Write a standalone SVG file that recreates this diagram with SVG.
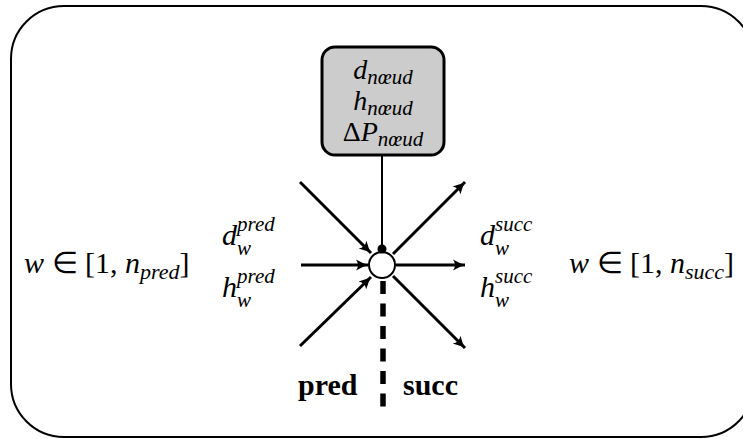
<svg xmlns="http://www.w3.org/2000/svg" width="743" height="439" viewBox="0 0 743 439">
<style>
.t{font-family:"Liberation Serif","Times New Roman",serif;fill:#000;font-size:30px}
.i{font-style:italic}
.b{font-weight:bold}
.s{font-size:22px;font-style:italic}
.k{font-size:21px;font-style:italic}
.bx{font-size:28px}
.arr{stroke:#000;stroke-width:3;fill:none;marker-end:url(#ah)}
</style>
<defs>
<marker id="ah" viewBox="-13 -6 14 12" refX="0" refY="0" markerWidth="14" markerHeight="12" markerUnits="userSpaceOnUse" orient="auto">
<path d="M-12,-5.5 Q-5,-1.5 0,0 Q-5,1.5 -12,5.5 Q-8,0 -12,-5.5 Z" fill="#000"/>
</marker>
</defs>
<rect x="11" y="6" width="743" height="431" rx="53" ry="53" fill="#fff" stroke="#000" stroke-width="2"/>
<g id="connectors">
<line x1="382" y1="155" x2="382" y2="249" stroke="#000" stroke-width="2"/>
<line class="arr" x1="300" y1="182" x2="371" y2="253"/>
<line class="arr" x1="301" y1="265" x2="368" y2="265"/>
<line class="arr" x1="300" y1="346" x2="371" y2="277"/>
<line class="arr" x1="393" y1="254" x2="465" y2="182"/>
<line class="arr" x1="396" y1="265" x2="465" y2="265"/>
<line class="arr" x1="393" y1="276" x2="465" y2="348"/>
<line x1="383" y1="281" x2="383" y2="408" stroke="#000" stroke-width="5.5" stroke-dasharray="13 9.5"/>
</g>
<g id="node-box">
<rect x="322" y="47" width="122" height="108" rx="13" ry="13" fill="#cccccc" stroke="#000" stroke-width="3"/>
<text class="t bx" text-anchor="middle" x="383" y="79"><tspan class="i">d</tspan><tspan class="k" dy="5">nœud</tspan></text>
<text class="t bx" text-anchor="middle" x="383" y="110"><tspan class="i">h</tspan><tspan class="k" dy="5">nœud</tspan></text>
<text class="t bx" text-anchor="middle" x="383" y="141">Δ<tspan class="i">P</tspan><tspan class="k" dy="5">nœud</tspan></text>
</g>
<g id="node-center">
<circle cx="382" cy="265" r="13" fill="#fff" stroke="#000" stroke-width="2"/>
<circle cx="382" cy="249" r="4.5" fill="#000"/>
</g>
<g id="labels-left">
<text class="t" x="24" y="273"><tspan class="i">w</tspan> ∈ [1, <tspan class="i">n</tspan><tspan class="s" dy="6">pred</tspan><tspan dy="-6">]</tspan></text>
<text class="t i" x="222" y="245">d</text>
<text class="t k" x="237" y="231">pred</text>
<text class="t k" x="237" y="255">w</text>
<text class="t i" x="222" y="297">h</text>
<text class="t k" x="237" y="283">pred</text>
<text class="t k" x="237" y="307">w</text>
</g>
<g id="labels-right">
<text class="t i" x="480" y="245">d</text>
<text class="t k" x="495" y="231">succ</text>
<text class="t k" x="495" y="255">w</text>
<text class="t i" x="480" y="297">h</text>
<text class="t k" x="495" y="283">succ</text>
<text class="t k" x="495" y="307">w</text>
<text class="t" x="569" y="273"><tspan class="i">w</tspan> ∈ [1, <tspan class="i">n</tspan><tspan class="s" dy="6">succ</tspan><tspan dy="-6">]</tspan></text>
</g>
<g id="labels-bottom">
<text class="t b" x="298" y="395">pred</text>
<text class="t b" x="403" y="395" font-size="31">succ</text>
</g>
</svg>
